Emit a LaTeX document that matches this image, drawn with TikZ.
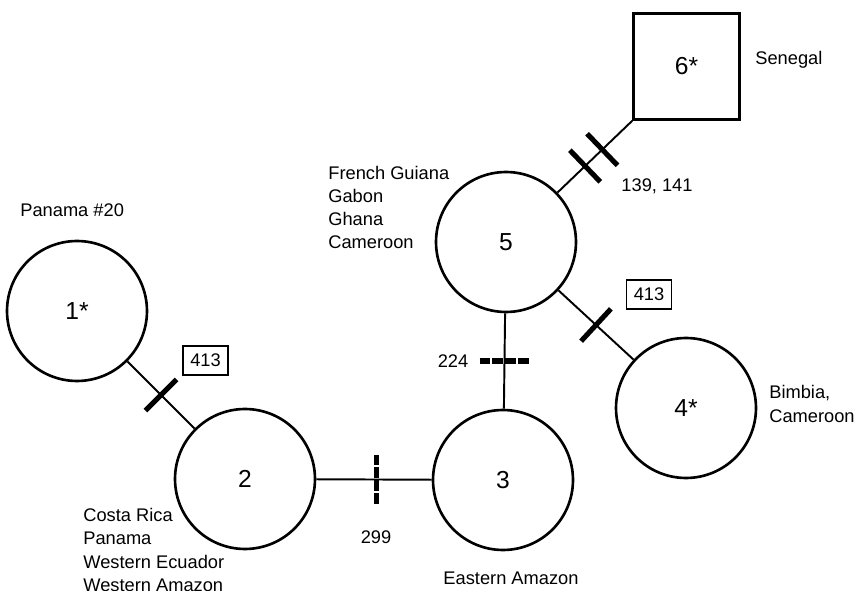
\documentclass[tikz,border=0pt]{standalone}
\usepackage{fontspec}
\setmainfont{Liberation Sans}
\usetikzlibrary{calc}
\tikzset{
  hap/.style={draw, circle, line width=1.5pt, minimum size=2.8cm, inner sep=0pt, font=\fontsize{14}{16}\selectfont},
  hapsq/.style={draw, rectangle, line width=1.5pt, minimum size=2.12cm, inner sep=0pt, font=\fontsize{14}{16}\selectfont},
  place/.style={font=\fontsize{10.4}{13.2}\selectfont, align=left, inner sep=0pt},
  site/.style={draw, line width=0.7pt, inner sep=0pt, minimum width=25.5pt, minimum height=16.4pt, font=\fontsize{10.4}{11}\selectfont},
  link/.style={line width=1.1pt},
  mutbar/.style={sloped, fill=black, draw=none, inner sep=0pt, minimum width=2.9pt, minimum height=25pt},
  dashbar/.style={line width=2.9pt, dash pattern=on 6.25pt off 1.1pt}
}

\begin{document}
\begin{tikzpicture}[x=0.02cm, y=-0.02cm]
\useasboundingbox (0,0) rectangle (856,591);

%% haplotypes
\node[hap] (c1) at (77,311) {1*};
\node[hap] (c2) at (245,479) {2};
\node[hap] (c3) at (503,480) {3};
\node[hap] (c4) at (686,408) {4*};
\node[hap] (c5) at (506,242) {5};
\node[hapsq] (s6) at (686.5,66.5) {6*};

%% links and mutations
\draw[link] (c1) -- node[mutbar, pos=.5] {} (c2);
\draw[link] (c2) -- coordinate[pos=.52] (m23) (c3);
\draw[link] (c3) -- coordinate[pos=.5] (m35) (c5);
\draw[link] (c5) -- node[mutbar, pos=.5] {} (c4);
\draw[link] (c5) -- node[mutbar, pos=.37] {} node[mutbar, pos=.6] {} (s6.south west);
\draw[dashbar] ($(m23)+(0,-25)$) -- ($(m23)+(0,25)$);
\draw[dashbar] ($(m35)+(-25,0)$) -- ($(m35)+(25,0)$);

%% sites
\node[site] (b12) at (205.5,360.5) {413};
\node[site] (b54) at (649,294.5) {413};
\node[place] (n23) at (376,537) {299};
\node[place] (n35) at (453,361) {224};
\node[place] (n56) at (657,186) {139, 141};

%% places
\node[place, anchor=west] (p1) at (20,210) {Panama \#20};
\node[place, anchor=west] (p2) at (83,550) {Costa Rica\\Panama\\Western Ecuador\\Western Amazon};
\node[place] (p3) at (511,578) {Eastern Amazon};
\node[place, anchor=west] (p4) at (769,404) {Bimbia,\\Cameroon};
\node[place, anchor=west] (p5) at (328,207.5) {French Guiana\\Gabon\\Ghana\\Cameroon};
\node[place, anchor=west] (p6) at (755,60) {Senegal};
\end{tikzpicture}
\end{document}
